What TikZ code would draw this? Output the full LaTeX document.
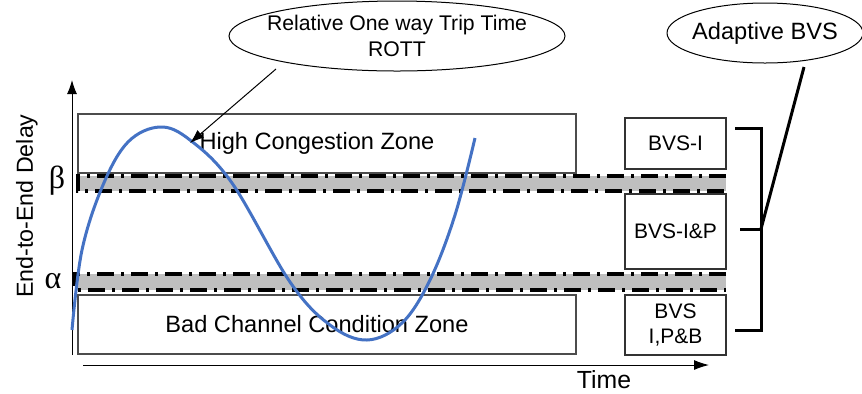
\documentclass[tikz,border=0pt]{standalone}
\usepackage{fontspec}
\setmainfont{Liberation Sans}
\newfontfamily\greekfont{Liberation Serif}
\usetikzlibrary{arrows.meta,calc}

\definecolor{curveblue}{HTML}{4472C4}
\tikzset{
	zone/.style={draw=black!70, line width=0.6pt, minimum width=249pt, minimum height=29.5pt, inner sep=0pt, font=\fontsize{11.8}{14}\selectfont},
	bvsbox/.style={draw=black!80, line width=0.6pt, minimum width=50.5pt, inner sep=0pt, align=center, font=\fontsize{10.5}{12.5}\selectfont},
	bandline/.style={line width=1.6pt, dash pattern=on 8.5pt off 3.5pt on 1.5pt off 3.5pt},
	brace/.style={line width=1.5pt},
}

\begin{document}
\begin{tikzpicture}[x=0.5pt, y=-0.5pt]
	\useasboundingbox (0,0) rectangle (862,393);
	% threshold bands
	\fill[black!25] (78,176) rectangle (726,191);
	\fill[black!25] (75,274) rectangle (726,290);
	\draw[bandline] (726,176) -- (78,176) -- (78,191) -- (726,191);
	\draw[bandline] (726,274) -- (75,274) -- (75,290) -- (726,290);
	% zones
	\node[zone] (high) at (327,143.5) {\hspace{-10pt}High Congestion Zone};
	\node[zone] (bad) at (327,324.5) {\hspace{-10pt}Bad Channel Condition Zone};
	% axes
	\draw[line width=0.5pt, -{Latex[length=7pt,width=5pt]}] (72,355) -- (72,80);
	\draw[line width=0.5pt, -{Latex[length=7.5pt,width=5pt]}] (83,365) -- (709,365);
	\node[rotate=90, font=\fontsize{11.6}{14}\selectfont] (ylab) at (27,206) {End-to-End Delay};
	\node[font=\fontsize{12.4}{14}\selectfont] (xlab) at (604,380) {Time};
	\node[font=\greekfont\fontsize{16}{16}\selectfont] (beta) at (57,181) {β};
	\node[font=\greekfont\fontsize{16}{16}\selectfont] (alpha) at (53,281) {α};
	% ROTT curve
	\draw[curveblue, line width=1.5pt] plot[smooth, tension=0.6] coordinates {(72,330) (82,250) (103,185) (128,142) (160,127) (190,140) (232,183) (290,282) (330,325) (367,340) (402,323) (430,280) (455,215) (475,138)};
	\coordinate (tip) at (190,143);
	\node[align=center, font=\fontsize{10.6}{13}\selectfont] (rott) at (397,36) {Relative One way Trip Time\\ROTT};
	\draw[line width=0.5pt] (rott.center) ellipse [x radius=168, y radius=35];
	\coordinate (rottfoot) at ($(rott.center)+(-121,33)$);
	\draw[line width=0.5pt, -{Latex[length=7pt,width=5pt]}] (rottfoot) -- (tip);
	% BVS modes
	\node[bvsbox, minimum height=25.5pt] (bvsi) at (675.5,143.5) {BVS-I};
	\node[bvsbox, minimum height=37.5pt] (bvsip) at (675.5,231.5) {BVS-I\&P};
	\node[bvsbox, minimum height=30pt] (bvsipb) at (675.5,325) {BVS\\I,P\&B};
	\coordinate (btop) at (761,128);
	\coordinate (bmid) at (761,229);
	\coordinate (bbot) at (761,330);
	\draw[brace] (735,128) -- (btop) -- (bbot) -- (735,330);
	\draw[brace] (740,229) -- (bmid);
	\node[font=\fontsize{11.8}{14}\selectfont] (adapt) at (765,33) {Adaptive BVS};
	\draw[line width=0.5pt] (adapt.center) ellipse [x radius=98, y radius=30];
	\coordinate (adaptfoot) at ($(adapt.center)+(39,34)$);
	\draw[brace] (adaptfoot) -- (bmid);
\end{tikzpicture}
\end{document}
